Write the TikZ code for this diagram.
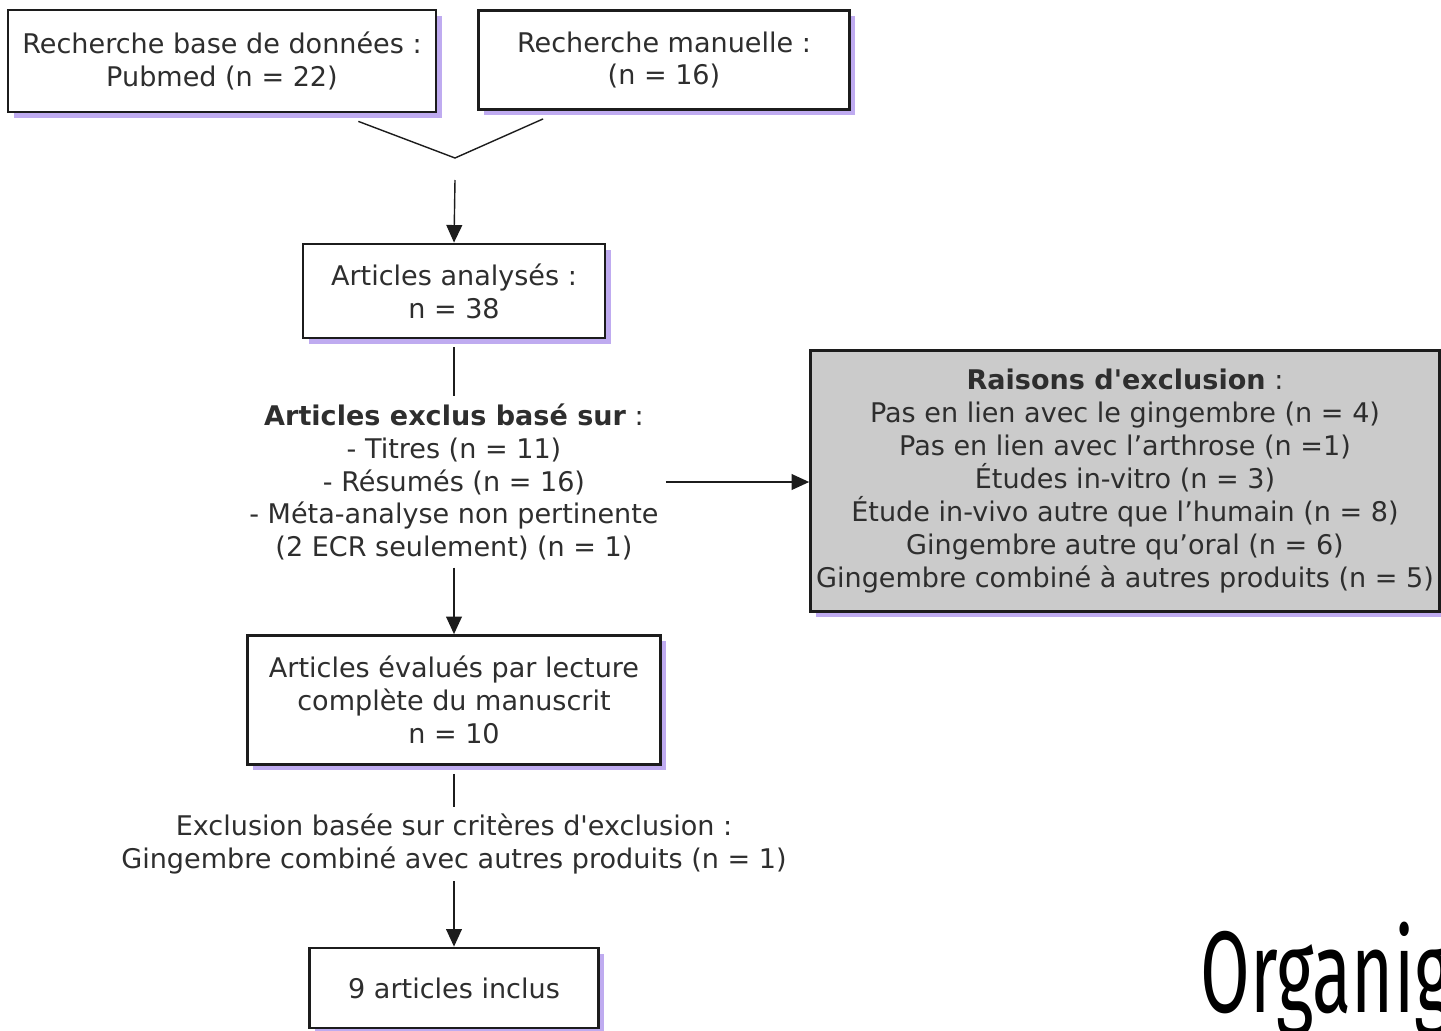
\documentclass[tikz,border=0pt]{standalone}
\usepackage{fontspec}
\setmainfont{DejaVu Sans}
\newfontfamily\titlefont[FakeStretch=0.62]{Fira Sans}
\usepackage{tikz}
\usetikzlibrary{arrows.meta,positioning,calc,shadows}
\usepackage{xcolor}
\definecolor{fcInk}{HTML}{1C1C1C}
\definecolor{fcText}{HTML}{2E2E2E}
\definecolor{fcLilac}{HTML}{B8A2EE}
\definecolor{fcGrey}{HTML}{CBCBCB}
\tikzset{
  box/.style={draw=fcInk, fill=white, line width=1.6pt, align=center, inner sep=0pt, text=fcText, font=\fontsize{15.4}{18.7}\selectfont, drop shadow={fill=fcLilac, opacity=0.9, shadow xshift=3.2pt, shadow yshift=-3.2pt}},
  boxG/.style={box, fill=fcGrey},
  note/.style={align=center, inner sep=4pt, text=fcText, font=\fontsize{15.4}{18.7}\selectfont},
  link/.style={line width=0.8pt, draw=fcInk},
  arr/.style={link, -{Triangle[length=10pt, width=9pt]}},
}

\begin{document}
\begin{tikzpicture}[x=0.02cm, y=-0.02cm]
        \clip (0,0) rectangle (1441,1031);
        % sources
        \node[box, minimum width=8.56cm, minimum height=2.04cm] (db) at (222,61) {Recherche base de données :\\Pubmed (n = 22)};
        \node[box, minimum width=7.42cm, minimum height=1.98cm] (man) at (664,60) {Recherche manuelle :\\(n = 16)};
        \coordinate (mrg) at (455,158);
        \draw[link] ($(db.south east)+(-79,8)$) -- (mrg) -- ($(man.south west)+(66,8)$);
        % main flow
        \node[box, minimum width=6.04cm, minimum height=1.88cm] (ana) at (454,291) {Articles analysés :\\n = 38};
        \draw[arr] ($(mrg)+(0,22)$) -- (ana.north);
        \node[note] (exc1) at (454,482) {\textbf{Articles exclus basé sur} :\\- Titres (n = 11)\\- Résumés (n = 16)\\- Méta-analyse non pertinente\\(2 ECR seulement) (n = 1)};
        \node[boxG, minimum width=12.58cm, minimum height=5.22cm] (excl) at (1125,481) {\textbf{Raisons d\textquotesingle exclusion} :\\Pas en lien avec le gingembre (n = 4)\\Pas en lien avec l’arthrose (n =1)\\Études in-vitro (n = 3)\\Étude in-vivo autre que l’humain (n = 8)\\Gingembre autre qu’oral (n = 6)\\Gingembre combiné à autres produits (n = 5)};
        \node[box, minimum width=8.26cm, minimum height=2.58cm] (eval) at (454,700) {Articles évalués par lecture\\complète du manuscrit\\n = 10};
        \node[note] (exc2) at (454,844) {Exclusion basée sur critères d\textquotesingle exclusion :\\Gingembre combiné avec autres produits (n = 1)};
        \node[box, minimum width=5.78cm, minimum height=1.6cm] (inc) at (454,988) {9 articles inclus};
        \draw[link, shorten <=0.16cm] (ana.south) -- (exc1.north);
        \draw[arr] (exc1.east) -- (exc1.east -| excl.west);
        \draw[arr] (exc1.south) -- (eval.north);
        \draw[link, shorten <=0.16cm] (eval.south) -- (exc2.north);
        \draw[arr] (exc2.south) -- (inc.north);
        % title, cut at the page edge
        \node[anchor=base west, inner sep=0pt, font=\titlefont\fontsize{66}{70}\selectfont] (ttl) at (1200,1012) {Organigramme};
    \end{tikzpicture}
\end{document}
